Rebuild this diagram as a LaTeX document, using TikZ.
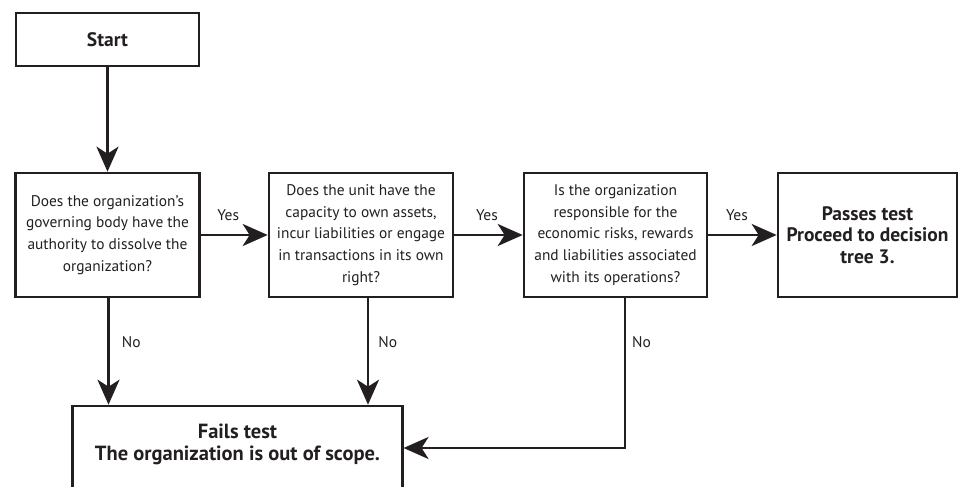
\documentclass[tikz,border=0pt]{standalone}
\usepackage{fontspec}
\setmainfont{PT Sans}
\usetikzlibrary{arrows.meta}
\definecolor{ink}{HTML}{231F20}

\begin{document}
\begin{tikzpicture}[x=1pt,y=-1pt,
  box/.style={draw=ink, line width=2.6pt, align=center, inner sep=0pt,
    text=ink, font=\fontsize{15.4}{21.7}\selectfont},
  boldbox/.style={box, font=\fontsize{19.5}{21.7}\selectfont\bfseries},
  arr/.style={draw=ink, line width=2.8pt,
    -{Stealth[length=25pt, width=22pt, inset=7pt]}},
  lbl/.style={text=ink, font=\fontsize{15.5}{17}\selectfont, inner sep=0pt}
]
\path[use as bounding box] (0,0) rectangle (959,487);
\clip (0,0) rectangle (959,487);

% boxes
\node[boldbox, minimum width=183, minimum height=53] (start) at (107.5,39.5) {Start};
\node[box, minimum width=184, minimum height=124] (q1) at (107.5,235)
  {Does the organization’s\\governing body have the\\authority to dissolve the\\organization?};
\node[box, minimum width=184, minimum height=124] (q2) at (361,235)
  {Does the unit have the\\capacity to own assets,\\incur liabilities or engage\\in transactions in its own\\right?};
\node[box, minimum width=183, minimum height=124] (q3) at (615.5,235)
  {Is the organization\\responsible for the\\economic risks, rewards\\and liabilities associated\\with its operations?};
\node[boldbox, minimum width=179, minimum height=124] (pass) at (867.5,235)
  {Passes test\\Proceed to decision\\tree 3.};
\node[box, minimum width=329.5, minimum height=84,
  label={[text=ink, align=center, font=\fontsize{20.5}{22}\selectfont\bfseries, yshift=4pt]center:Fails test\\The organization is out of scope.}]
  (fail) at (237.5,448) {};

% connectors
\draw[arr] (start) -- (q1);
\draw[arr] (q1) -- node[lbl, above=13pt, xshift=-6pt] (y1) {Yes} (q2);
\draw[arr] (q2) -- node[lbl, above=13pt, xshift=-1.5pt] (y2) {Yes} (q3);
\draw[arr] (q3) -- node[lbl, above=13pt, xshift=-5.5pt] (y3) {Yes} (pass);

\draw[arr] ([xshift=1pt]q1.south) -- ([xshift=1pt]q1.south |- fail.north)
  node[lbl, pos=0.41, right=12pt] (n1) {No};
\draw[arr] ([xshift=7pt]q2.south) -- ([xshift=7pt]q2.south |- fail.north)
  node[lbl, pos=0.41, right=9pt] (n2) {No};
\coordinate (bend) at ([xshift=9.5pt]q3.south |- fail.east);
\draw[arr] ([xshift=9.5pt]q3.south) -- (bend) -- (fail.east);
\node[lbl, right=7pt] (n3) at ([xshift=9.5pt, yshift=-44pt]q3.south) {No};
\end{tikzpicture}
\end{document}
